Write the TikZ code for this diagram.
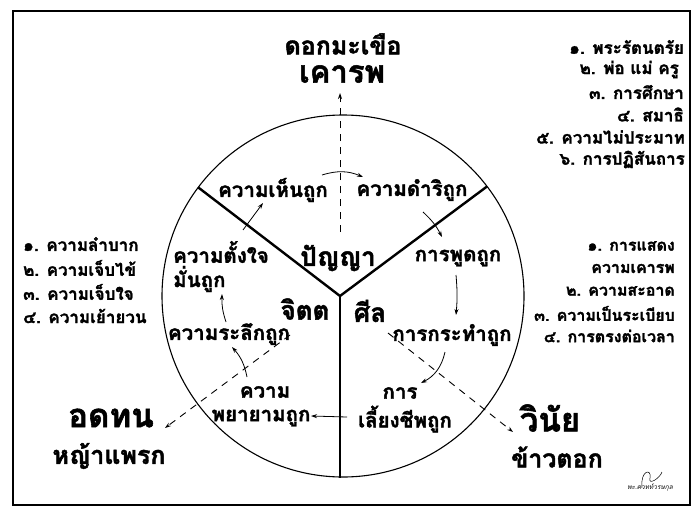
\documentclass[tikz,border=0pt]{standalone}
\usepackage{fontspec}
\newfontfamily\thai[Script=Thai,BoldFeatures={FakeBold=1.7}]{Loma}
\usetikzlibrary{arrows.meta,calc}
\begin{document}
\begin{tikzpicture}[x=1pt,y=-1pt,
  tx/.style={font=\thai\bfseries\fontsize{20.5}{22}\selectfont, inner sep=0pt},
  mid/.style={font=\thai\bfseries\fontsize{25}{27}\selectfont, inner sep=0pt},
  big/.style={font=\thai\bfseries\fontsize{26}{28}\selectfont, inner sep=0pt},
  huge/.style={font=\thai\bfseries\fontsize{33}{35}\selectfont, inner sep=0pt},
  lst/.style={font=\thai\bfseries\fontsize{17}{19}\selectfont, inner sep=0pt},
  lsts/.style={font=\thai\bfseries\fontsize{16}{18}\selectfont, inner sep=0pt},
  arr/.style={-{Stealth[length=6pt,width=4pt]}, line width=0.8pt},
  dasharr/.style={-{Stealth[length=6pt,width=4pt]}, line width=0.9pt, dash pattern=on 7pt off 6pt},
  spoke/.style={line width=2.4pt},
]
\useasboundingbox (0,0) rectangle (700,516);
\draw[line width=1.6pt] (13,11) rectangle (690,505);
% circle
\coordinate (O) at (343,296);
\draw[line width=1.1pt] (O) circle[radius=181pt];
\coordinate (J) at (340,296);
\coordinate (A) at ($(O)!181pt!(195,185)$);
\coordinate (B) at ($(O)!181pt!(485,188)$);
\coordinate (C) at (340,478);
\draw[spoke] (A) -- (J) -- (B);
\draw[spoke] (J) -- (C);
% top labels
\node[mid] (dok) at (343,44) {ดอกมะเขือ};
\node[huge,font=\thai\bfseries\fontsize{31}{33}\selectfont] (kao) at (342,74) {เคารพ};
% top right list
\node[lst,anchor=east] (r1) at (684,47) {๑. พระรัตนตรัย};
\node[lst,anchor=east] (r2) at (679,69.5) {๒. พ่อ แม่ ครู};
\node[lst,anchor=east] (r3) at (684,92) {๓. การศึกษา};
\node[lst,anchor=east] (r4) at (684,114.5) {๔. สมาธิ};
\node[lst,anchor=east] (r5) at (685,137) {๕. ความไม่ประมาท};
\node[lst,anchor=east] (r6) at (685,159.5) {๖. การปฏิสันถาร};
% left list
\node[lst,anchor=west] (l1) at (23,244) {๑. ความลำบาก};
\node[lst,anchor=west] (l2) at (23,268) {๒. ความเจ็บไข้};
\node[lst,anchor=west] (l3) at (23,292) {๓. ความเจ็บใจ};
\node[lst,anchor=west] (l4) at (23,316) {๔. ความเย้ายวน};
% right middle list
\node[lsts,anchor=east] (m1) at (675,246) {๑. การแสดง};
\node[lsts,anchor=east] (m2) at (675,268.5) {ความเคารพ};
\node[lsts,anchor=east] (m3) at (675,291) {๒. ความสะอาด};
\node[lsts,anchor=east] (m4) at (675,313.5) {๓. ความเป็นระเบียบ};
\node[lsts,anchor=east] (m5) at (675,336) {๔. การตรงต่อเวลา};
% bottom big labels
\node[huge] (odt) at (111,418) {อดทน};
\node[mid] (ya) at (109,456) {หญ้าแพรก};
\node[huge] (win) at (550,418) {วินัย};
\node[mid] (kt) at (557,457) {ข้าวตอก};
% inner labels
\node[tx] (hen) at (273,190) {ความเห็นถูก};
\node[tx] (dam) at (412,190) {ความดำริถูก};
\node[big] (pan) at (338,258) {ปัญญา};
\node[tx] (phut) at (458,258) {การพูดถูก};
\node[big] (jit) at (305,309) {จิตต};
\node[big] (sil) at (370,311) {ศีล};
\node[tx,anchor=west] (tang) at (173,252) {ความตั้งใจ};
\node[tx,anchor=west] (man) at (173,279) {มั่นถูก};
\node[tx] (ral) at (229,334) {ความระลึกถูก};
\node[tx] (kra) at (452,335) {การกระทำถูก};
\node[tx] (pa1) at (265,392) {ความ};
\node[tx] (pa2) at (261,418) {พยายามถูก};
\node[tx] (li1) at (400,393) {การ};
\node[tx] (li2) at (405,419) {เลี้ยงชีพถูก};
% dashed arrows
\coordinate (d1s) at (340,232);
\coordinate (d1e) at (340,93);
\draw[dasharr] (d1s) -- (d1e);
\coordinate (d2s) at (290,335);
\coordinate (d2e) at (165,428);
\draw[dasharr] (d2s) -- (d2e);
\coordinate (d3s) at (388,333);
\coordinate (d3e) at (513,432);
\draw[dasharr] (d3s) -- (d3e);
% cycle arrows
\coordinate (a1s) at (322,175); \coordinate (a1e) at (363,177);
\draw[arr] (a1s) to[bend left=20] (a1e);
\coordinate (a2s) at (423,212); \coordinate (a2e) at (442,237);
\draw[arr] (a2s) to[bend left=10] (a2e);
\coordinate (a3s) at (456,275); \coordinate (a3e) at (456,315);
\draw[arr] (a3s) to[bend left=5] (a3e);
\coordinate (a4s) at (445,352); \coordinate (a4e) at (421,383);
\draw[arr] (a4s) to[bend left=25] (a4e);
\coordinate (a5s) at (347,417); \coordinate (a5e) at (311,416);
\draw[arr] (a5s) -- (a5e);
\coordinate (a6s) at (247,377); \coordinate (a6e) at (232,347);
\draw[arr] (a6s) to[bend right=15] (a6e);
\coordinate (a7s) at (226,322); \coordinate (a7e) at (222,294);
\draw[arr] (a7s) to[bend left=10] (a7e);
\coordinate (a8s) at (243,230); \coordinate (a8e) at (263,203);
\draw[arr] (a8s) -- (a8e);
% signature
\node[font=\thai\itshape\fontsize{6.5}{7}\selectfont, inner sep=0pt] (sig) at (650,487) {พะ.ควทท์วรษกุล};
\draw[line width=0.5pt] (642,488) .. controls (640,470) and (652,468) .. (650,478) .. controls (648,486) and (660,478) .. (662,472);
\end{tikzpicture}
\end{document}
